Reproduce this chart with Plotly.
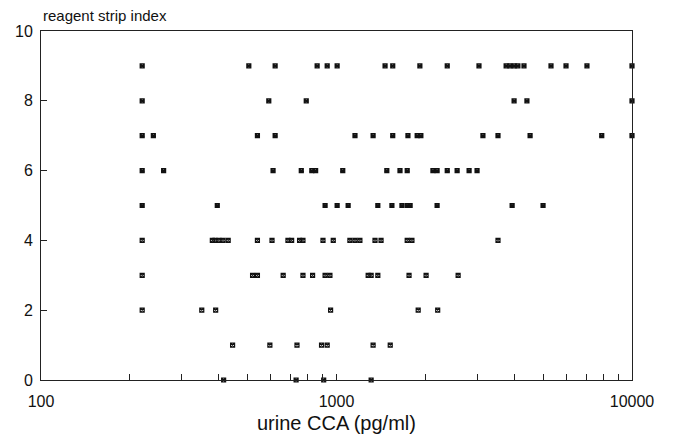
import plotly.graph_objects as go

# urine CCA (pg/ml) values for each reagent strip index
cca_idx0 = [415, 730, 905, 1310]
cca_idx1 = [445, 595, 735, 890, 930, 1330, 1520]
cca_idx2 = [220, 350, 390, 955, 1890, 2200]
cca_idx3 = [220, 520, 540, 660, 770, 830, 915, 950, 1280, 1310, 1380, 1760, 2010, 2580]
cca_idx4 = [220, 380, 388, 400, 413, 430, 540, 605, 685, 705, 750, 770, 900, 975, 1110,
            1155, 1200, 1350, 1415, 1735, 1800, 3520]
cca_idx5 = [220, 395, 915, 1005, 1095, 1380, 1540, 1665, 1735, 1775, 2190, 3930, 5000]
cca_idx6 = [220, 260, 610, 760, 825, 850, 1050, 1480, 1640, 1735, 2120, 2190, 2370, 2560, 2810, 2990]
cca_idx7 = [220, 240, 540, 620, 1155, 1330, 1550, 1745, 1875, 1930, 3130, 3520, 4520, 7900, 10000]
cca_idx8 = [220, 590, 790, 3990, 4410, 10000]
cca_idx9 = [220, 505, 620, 860, 930, 1005, 1460, 1550, 1915, 2370, 3035, 3750, 3865, 3990,
            4110, 4310, 5320, 5980, 7040, 10000]

rows = [cca_idx0, cca_idx1, cca_idx2, cca_idx3, cca_idx4,
        cca_idx5, cca_idx6, cca_idx7, cca_idx8, cca_idx9]
strip_index = list(range(10))

x_tickvals = [100, 200, 300, 400, 500, 600, 700, 800, 900,
              1000, 2000, 3000, 4000, 5000, 6000, 7000, 8000, 9000, 10000]
x_ticktext = ["100"] + [""] * 8 + ["1000"] + [""] * 8 + ["10000"]
y_tickvals = [0, 2, 4, 6, 8, 10]

xs, ys = [], []
for idx, vals in zip(strip_index, rows):
    xs.extend(vals)
    ys.extend([idx] * len(vals))

fig = go.Figure()
fig.add_trace(go.Scatter(
    x=xs, y=ys, mode="markers",
    marker=dict(symbol="square-x-open", size=4, color="#111", line=dict(width=1.2, color="#111")),
    cliponaxis=False, showlegend=False, hoverinfo="skip",
))

font = "Liberation Sans, Arial, sans-serif"
fig.update_layout(
    width=674, height=434,
    margin=dict(l=41, r=42, t=31, b=54, autoexpand=False),
    paper_bgcolor="white", plot_bgcolor="white",
    font=dict(family=font, size=16, color="#111"),
    xaxis=dict(
        type="log", range=[2, 4], automargin=False,
        tickvals=x_tickvals, ticktext=x_ticktext,
        ticks="inside", ticklen=6, tickcolor="#222", tickwidth=1,
        showline=True, linecolor="#222", linewidth=1, mirror=True,
        showgrid=False, zeroline=False,
        ticklabelstandoff=7,
    ),
    yaxis=dict(
        range=[0, 10], tickvals=y_tickvals, automargin=False,
        ticks="inside", ticklen=6, tickcolor="#222", tickwidth=1,
        showline=True, linecolor="#222", linewidth=1, mirror=True,
        showgrid=False, zeroline=False,
        ticklabelstandoff=4,
    ),
    annotations=[
        dict(text="reagent strip index", xref="paper", yref="paper",
             x=0, y=1, xanchor="left", yanchor="bottom", yshift=5,
             showarrow=False, font=dict(size=15, family=font, color="#111")),
        dict(text="urine CCA (pg/ml)", xref="paper", yref="paper",
             x=0.5, y=0, xanchor="center", yanchor="middle", yshift=-43,
             showarrow=False, font=dict(size=20, family=font, color="#111")),
    ],
)

fig.write_html(
    "out.html",
    config={"displayModeBar": False, "staticPlot": True},
    post_script="document.body.style.margin='0';document.body.style.overflow='hidden';",
)
